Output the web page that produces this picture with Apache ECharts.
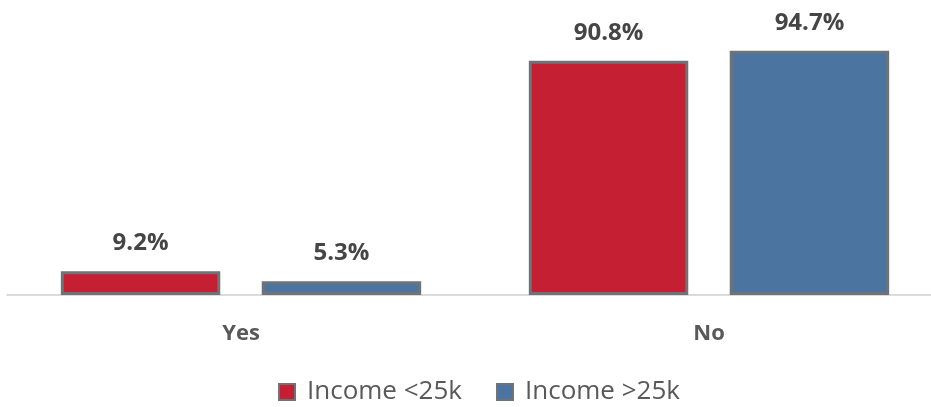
<!DOCTYPE html>
<html><head><meta charset="utf-8">
<script src="https://cdn.jsdelivr.net/npm/echarts@6/dist/echarts.min.js"></script>
<style>html,body{margin:0;padding:0;background:#fff}#c{width:931px;height:407px}</style>
</head><body><div id="c"></div>
<script>
const categories = ['Yes', 'No'];
const seriesNames = ['Income <25k', 'Income >25k'];
const incomeLow = [9.2, 90.8];
const incomeHigh = [5.3, 94.7];
const colors = ['#C41F33', '#4B74A0'];
const FONT = '"Open Sans", sans-serif';
const chart = echarts.init(document.getElementById('c'));
function mk(name, data, color) {
  return {
    name, type: 'bar', data,
    barGap: '26%', barCategoryGap: '23%',
    itemStyle: { color, borderColor: '#6E7377', borderWidth: 3 },
    label: { show: true, position: 'top', distance: 16, formatter: p => p.value.toFixed(1) + '%',
      fontFamily: FONT, fontWeight: 'bold', fontSize: 24, color: '#454545' }
  };
}
chart.setOption({
  animation: false,
  grid: { left: 7, right: -12, top: 37, bottom: 112, outerBoundsMode: 'none', containLabel: false },
  legend: { bottom: -3, left: 273, itemWidth: 16, itemHeight: 16, itemGap: 34,
    icon: 'rect', textStyle: { fontFamily: FONT, fontSize: 26, color: '#595959', padding: [0, 0, 0, 7] },
    itemStyle: { borderColor: '#6E7377', borderWidth: 2 } },
  xAxis: { type: 'category', data: categories,
    axisLine: { lineStyle: { color: '#D0D0D0', width: 1.5 } }, axisTick: { show: false },
    axisLabel: { margin: 28, fontFamily: FONT, fontWeight: 'bold', fontSize: 22, color: '#595959' } },
  yAxis: { type: 'value', min: 0, max: 100, show: false, splitLine: { show: false } },
  series: [mk(seriesNames[0], incomeLow, colors[0]), mk(seriesNames[1], incomeHigh, colors[1])]
});
</script></body></html>
